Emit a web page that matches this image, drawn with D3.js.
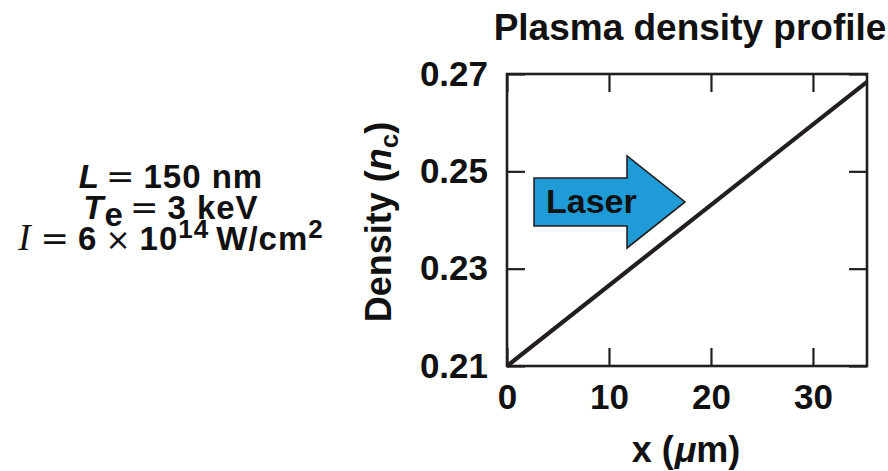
<!DOCTYPE html>
<html>
<head>
<meta charset="utf-8">
<script src="https://cdn.jsdelivr.net/npm/d3@7"></script>
<style>
  body { margin: 0; background: #fff; }
  text { font-family: "Liberation Sans", Arial, sans-serif; font-weight: bold; fill: #111; }
  .op { font-family: "DejaVu Sans", sans-serif; font-weight: normal; }
</style>
</head>
<body>
<div id="chart"></div>
<script>
// data
var positionUm = [0, 35.3];
var densityNc = [0.21, 0.2684];
var xTicks = [0, 10, 20, 30];
var yTicks = [0.21, 0.23, 0.25, 0.27];

var svg = d3.select('#chart').append('svg')
    .attr('width', 888)
    .attr('height', 471);

var margin = {top: 74, right: 21, bottom: 105, left: 507},
    width = 888 - margin.left - margin.right,
    height = 471 - margin.top - margin.bottom;

var x = d3.scaleLinear().domain([0, 35.3]).range([0, width]);
var y = d3.scaleLinear().domain([0.21, 0.27]).range([height, 0]);

var g = svg.append('g')
    .attr('transform', 'translate(' + margin.left + ',' + margin.top + ')');

function styleAxis(sel) {
    sel.select('.domain').remove();
    sel.selectAll('.tick line').attr('stroke', '#231f20').attr('stroke-width', 2.2);
    sel.selectAll('.tick text').style('font-size', '35px').attr('fill', '#111');
}

// bottom axis with labels, ticks pointing in
g.append('g')
    .attr('transform', 'translate(0,' + height + ')')
    .call(d3.axisBottom(x).tickValues(xTicks).tickSize(-18).tickPadding(18).tickFormat(d3.format('d')))
    .call(styleAxis);

g.append('g')
    .call(d3.axisTop(x).tickValues(xTicks).tickSize(-18).tickFormat(''))
    .call(styleAxis);

g.append('g')
    .call(d3.axisLeft(y).tickValues(yTicks).tickSize(-18).tickPadding(19).tickFormat(d3.format('.2f')))
    .call(styleAxis);

g.append('g')
    .attr('transform', 'translate(' + width + ',0)')
    .call(d3.axisRight(y).tickValues(yTicks).tickSize(-18).tickFormat(''))
    .call(styleAxis);

// frame
g.append('rect')
    .attr('width', width)
    .attr('height', height)
    .attr('fill', 'none')
    .attr('stroke', '#231f20')
    .attr('stroke-width', 2.6);

// density profile
var line = d3.line()
    .x(function(d, i) { return x(positionUm[i]); })
    .y(function(d) { return y(d); });

g.append('path')
    .datum(densityNc)
    .attr('d', line)
    .attr('fill', 'none')
    .attr('stroke', '#231f20')
    .attr('stroke-width', 4.2);

// laser arrow
var ax = x(2.65), ay = y(0.2437);
var arrow = [[0, -24], [93, -24], [93, -46], [151, 0], [93, 46], [93, 24], [0, 24]];
g.append('path')
    .attr('d', d3.line()(arrow.map(function(p) { return [ax + p[0], ay + p[1]]; })) + 'Z')
    .attr('fill', '#1f9bd7')
    .attr('stroke', '#231f20')
    .attr('stroke-width', 1.6);

g.append('text')
    .attr('x', ax + 12)
    .attr('y', ay + 11)
    .style('font-size', '34px')
    .text('Laser');

// title
svg.append('text')
    .attr('x', 690)
    .attr('y', 40)
    .attr('text-anchor', 'middle')
    .style('font-size', '37px')
    .text('Plasma density profile');

// x axis label
var xl = svg.append('text')
    .attr('x', 686)
    .attr('y', 462)
    .attr('text-anchor', 'middle')
    .style('font-size', '36px');
xl.append('tspan').text('x (');
xl.append('tspan').style('font-style', 'italic').attr('dx', 1).text('\u03bc');
xl.append('tspan').text('m)');

// y axis label
var yl = svg.append('text')
    .attr('transform', 'translate(391,222) rotate(-90)')
    .attr('text-anchor', 'middle')
    .style('font-size', '36px');
yl.append('tspan').text('Density (');
yl.append('tspan').style('font-style', 'italic').text('n');
yl.append('tspan').attr('dy', 7).style('font-size', '26px').text('c');
yl.append('tspan').attr('dy', -7).text(')');

// parameters block
function paramLine(yb) {
    return svg.append('text')
        .attr('x', 171)
        .attr('y', yb)
        .attr('text-anchor', 'middle')
        .style('font-size', '33px')
        .style('letter-spacing', '1px');
}

var l1 = paramLine(188);
l1.append('tspan').style('font-style', 'italic').text('L');
l1.append('tspan').attr('class', 'op').attr('dx', 6).style('font-size', '34px').text('=');
l1.append('tspan').attr('dx', 8).text('150 nm');

var l2 = paramLine(219);
l2.append('tspan').style('font-style', 'italic').text('T');
l2.append('tspan').attr('dy', 7).text('e');
l2.append('tspan').attr('class', 'op').attr('dy', -7).attr('dx', 6).style('font-size', '34px').text('=');
l2.append('tspan').attr('dx', 8).text('3 keV');

var l3 = paramLine(250);
l3.append('tspan').style('font-family', '"Liberation Serif", serif').style('font-style', 'italic').style('font-weight', 'normal').style('font-size', '37px').text('I');
l3.append('tspan').attr('class', 'op').attr('dx', 9).style('font-size', '34px').text('=');
l3.append('tspan').attr('dx', 8).text('6');
l3.append('tspan').attr('class', 'op').attr('dx', 8).style('font-size', '30px').text('\u00d7');
l3.append('tspan').attr('dx', 8).text('10');
l3.append('tspan').attr('dy', -12).style('font-size', '26px').text('14');
l3.append('tspan').attr('dy', 12).attr('dx', 7).text('W/cm');
l3.append('tspan').attr('dy', -12).style('font-size', '26px').text('2');
</script>
</body>
</html>
